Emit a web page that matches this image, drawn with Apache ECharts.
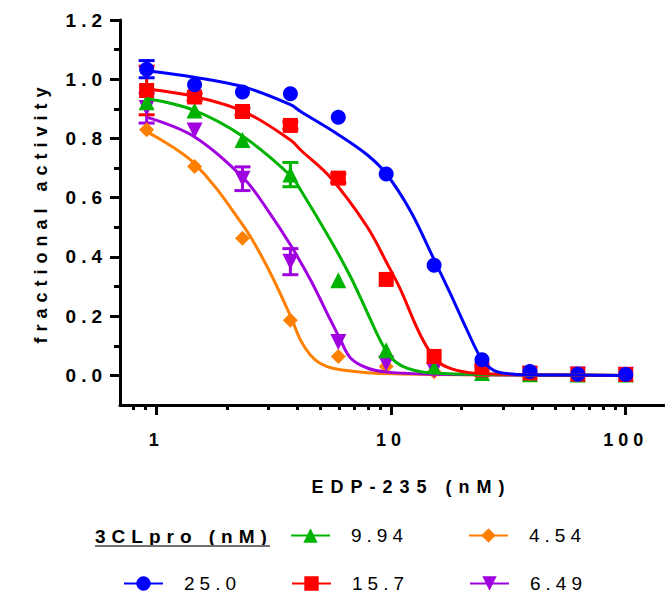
<!DOCTYPE html>
<html><head><meta charset="utf-8">
<script src="https://cdn.jsdelivr.net/npm/echarts@6/dist/echarts.min.js"></script>
<style>
html,body{margin:0;padding:0;background:#fff;}
#chart{width:665px;height:596px;}
#chart text{letter-spacing:5px;}
</style></head><body>
<div id="chart"></div>
<script>
// ---- data ----
const conc = [0.909, 1.455, 2.328, 3.725, 5.96, 9.537, 15.26, 24.41, 39.06, 62.5, 100];

const names = ['25.0', '15.7', '9.94', '6.49', '4.54'];

const blueVals   = [1.034, 0.981, 0.957, 0.951, 0.872, 0.680, 0.372, 0.053, 0.013, 0.004, 0.003];
const redVals    = [0.962, 0.940, 0.891, 0.844, 0.666, 0.324, 0.064, 0.019, 0.008, 0.004, 0.003];
const greenVals  = [0.922, 0.894, 0.795, 0.678, 0.321, 0.085, 0.025, 0.008, 0.004, 0.003, 0.003];
const purpleVals = [0.903, 0.827, 0.664, 0.384, 0.113, 0.040, 0.017, 0.006, 0.004, 0.003, 0.002];
const orangeVals = [0.829, 0.705, 0.463, 0.186, 0.064, 0.030, 0.012, 0.006, 0.004, 0.003, 0.002];

const blueErr   = [0.029, 0, 0, 0, 0, 0, 0, 0, 0, 0, 0];
const redErr    = [0.082, 0.012, 0.012, 0.012, 0.015, 0, 0, 0, 0, 0, 0];
const greenErr  = [0, 0, 0, 0.041, 0, 0, 0, 0, 0, 0, 0];
const purpleErr = [0.051, 0, 0.040, 0.044, 0, 0, 0, 0, 0, 0, 0];
const orangeErr = [0, 0, 0, 0, 0, 0, 0, 0, 0, 0, 0];

// fitted curves
const blueFitX   = [0.909, 1.45, 2.36, 3.73, 4.12, 5.99, 7.91, 9.56, 12.1, 15.3, 17.9, 21.1, 24.4, 27.4, 31.2, 39.2, 62.5, 100];
const blueFitY   = [1.029, 1.007, 0.974, 0.914, 0.891, 0.812, 0.745, 0.680, 0.555, 0.389, 0.276, 0.152, 0.053, 0.017, 0.006, 0.002, 0.001, 0.0];
const redFitX    = [0.909, 1.45, 2.36, 3.73, 4.12, 5.52, 7.91, 9.62, 11.0, 12.9, 14.5, 16.2, 19.1, 24.0, 39.2, 100];
const redFitY    = [0.967, 0.942, 0.891, 0.795, 0.761, 0.668, 0.502, 0.378, 0.288, 0.160, 0.085, 0.040, 0.017, 0.006, 0.002, 0.0];
const greenFitX  = [0.909, 1.45, 2.36, 3.73, 4.12, 5.52, 6.72, 7.9, 9.0, 9.95, 11.0, 12.9, 15.0, 24.0, 100];
const greenFitY  = [0.935, 0.895, 0.805, 0.675, 0.626, 0.457, 0.333, 0.214, 0.118, 0.062, 0.034, 0.015, 0.008, 0.003, 0.0];
const purpleFitX = [0.909, 1.45, 2.36, 3.0, 3.73, 4.54, 5.52, 6.09, 6.72, 7.91, 9.6, 15.0, 100];
const purpleFitY = [0.872, 0.806, 0.665, 0.555, 0.440, 0.322, 0.187, 0.120, 0.059, 0.025, 0.011, 0.004, 0.0];
const orangeFitX = [0.909, 1.45, 2.36, 2.97, 3.73, 4.12, 4.54, 5.0, 5.7, 7.9, 11.0, 20.0, 100];
const orangeFitY = [0.823, 0.716, 0.502, 0.366, 0.200, 0.118, 0.068, 0.040, 0.023, 0.009, 0.005, 0.002, 0.0];

// axis ticks
const xMajorTicks = [1, 10, 100];
const xMinorTicks = [0.8, 0.9, 2, 3, 4, 5, 6, 7, 8, 9, 20, 30, 40, 50, 60, 70, 80, 90];
const yMajorTicks = [0, 0.2, 0.4, 0.6, 0.8, 1.0, 1.2];
const yMinorTicks = [0.1, 0.3, 0.5, 0.7, 0.9, 1.1];

const xTitle = 'EDP-235 (nM)';
const yTitle = 'fractional activity';
const legendTitle = '3CLpro (nM)';

// ---- chart ----
const XMIN = 0.7, XMAX = 147, YMIN = -0.1, YMAX = 1.2;
const FONT = 'Arial, "Liberation Sans", sans-serif';
const lg = v => Math.log10(v);

const colors = {blue:'#0000ff', red:'#ff0000', green:'#00b300', purple:'#a000e0', orange:'#ff8000'};

const groups = [
  {key:'orange', name:names[4], vals:orangeVals, err:orangeErr, fx:orangeFitX, fy:orangeFitY, symbol:'diamond', size:15, rot:0},
  {key:'purple', name:names[3], vals:purpleVals, err:purpleErr, fx:purpleFitX, fy:purpleFitY, symbol:'triangle', size:16, rot:180},
  {key:'green',  name:names[2], vals:greenVals,  err:greenErr,  fx:greenFitX,  fy:greenFitY,  symbol:'triangle', size:16, rot:0},
  {key:'red',    name:names[1], vals:redVals,    err:redErr,    fx:redFitX,    fy:redFitY,    symbol:'rect',     size:15, rot:0},
  {key:'blue',   name:names[0], vals:blueVals,   err:blueErr,   fx:blueFitX,   fy:blueFitY,   symbol:'circle',   size:15, rot:0}
];

const series = [];
groups.forEach(g => {
  const col = colors[g.key];
  series.push({
    type:'line', name:g.name, xAxisIndex:0, yAxisIndex:0,
    data: g.fx.map((x,i)=>[x, g.fy[i]]),
    smooth:0.35,
    showSymbol:false, symbol:g.symbol, symbolSize:g.size, symbolRotate:g.rot,
    lineStyle:{color:col, width:3}, itemStyle:{color:col},
    silent:true
  });
  series.push({
    type:'custom', name:g.name+' error', xAxisIndex:0, yAxisIndex:0,
    data: conc.map((c,i)=>[c, g.vals[i], g.err[i]]).filter(d=>d[2]>0),
    encode:{x:0, y:1},
    renderItem(params, api){
      const x = api.value(0), y = api.value(1), e = api.value(2);
      const t = api.coord([x, y+e]), b = api.coord([x, y-e]);
      const hw = 8, st = {stroke:col, lineWidth:3};
      return {type:'group', children:[
        {type:'line', shape:{x1:t[0], y1:t[1], x2:b[0], y2:b[1]}, style:st},
        {type:'line', shape:{x1:t[0]-hw, y1:t[1], x2:t[0]+hw, y2:t[1]}, style:st},
        {type:'line', shape:{x1:b[0]-hw, y1:b[1], x2:b[0]+hw, y2:b[1]}, style:st}
      ]};
    },
    silent:true
  });
  series.push({
    type:'scatter', name:g.name+' points', xAxisIndex:0, yAxisIndex:0,
    data: conc.map((c,i)=>[c, g.vals[i]]),
    symbol:g.symbol, symbolSize:g.size, symbolRotate:g.rot,
    itemStyle:{color:col, opacity:1}, silent:true
  });
});

const legendBase = {
  orient:'horizontal', padding:0, itemWidth:39, itemHeight:18, selectedMode:false,
  textStyle:{fontSize:19, fontFamily:FONT, color:'#000', padding:[6,0,0,16]}
};
const legends = [
  Object.assign({data:[names[2]], left:290, top:526}, legendBase),
  Object.assign({data:[names[4]], left:468, top:526}, legendBase),
  Object.assign({data:[names[0]], left:123, top:574}, legendBase),
  Object.assign({data:[names[1]], left:291, top:574}, legendBase),
  Object.assign({data:[names[3]], left:469, top:574}, legendBase)
];

const tickStyle = {color:'#000', width:3};
const noLine = {show:false, onZero:false};
const option = {
  animation:false,
  backgroundColor:'#fff',
  grid:{left:120, right:0, top:20, bottom:191, containLabel:false, outerBoundsMode:'none'},
  xAxis:[
    {type:'log', logBase:10, min:XMIN, max:XMAX, position:'bottom',
     axisLine:{show:true, onZero:false, lineStyle:{color:'#000', width:3}},
     axisTick:{show:false}, axisLabel:{show:false}, splitLine:{show:false}, minorTick:{show:false},
     name:xTitle, nameLocation:'middle', nameGap:73,
     nameTextStyle:{fontSize:18, fontWeight:'bold', fontFamily:FONT, color:'#000', padding:[0,0,0,38]}},
    {type:'value', min:lg(XMIN), max:lg(XMAX), position:'bottom',
     axisLine:noLine,
     axisTick:{show:true, customValues:xMajorTicks.map(lg), length:10, lineStyle:tickStyle},
     axisLabel:{show:true, customValues:xMajorTicks.map(lg), margin:26, fontSize:18, fontWeight:'bold', fontFamily:FONT, color:'#000',
       formatter: v => String(xMajorTicks[Math.round(v)])},
     splitLine:{show:false}},
    {type:'value', min:lg(XMIN), max:lg(XMAX), position:'bottom',
     axisLine:noLine,
     axisTick:{show:true, customValues:xMinorTicks.map(lg), length:5, lineStyle:tickStyle},
     axisLabel:{show:false}, splitLine:{show:false}}
  ],
  yAxis:[
    {type:'value', min:YMIN, max:YMAX, position:'left',
     axisLine:{show:true, onZero:false, lineStyle:{color:'#000', width:3}},
     axisTick:{show:true, customValues:yMajorTicks, length:10, lineStyle:tickStyle},
     axisLabel:{show:true, customValues:yMajorTicks, margin:13, fontSize:19, fontWeight:'bold', fontFamily:FONT, color:'#000',
       formatter: v => v.toFixed(1)},
     splitLine:{show:false},
     name:yTitle, nameLocation:'middle', nameGap:70, nameRotate:90,
     nameTextStyle:{fontSize:18, fontWeight:'bold', fontFamily:FONT, color:'#000'}},
    {type:'value', min:YMIN, max:YMAX, position:'left',
     axisLine:noLine,
     axisTick:{show:true, customValues:yMinorTicks, length:6, lineStyle:tickStyle},
     axisLabel:{show:false}, splitLine:{show:false}}
  ],
  legend: legends,
  graphic:[
    {type:'text', left:95, top:527, style:{text:legendTitle, fontSize:19, fontWeight:'bold', fontFamily:FONT, fill:'#000'}},
    {type:'line', shape:{x1:95, y1:546, x2:270, y2:546}, style:{stroke:'#707070', lineWidth:2}}
  ],
  series: series
};

const chart = echarts.init(document.getElementById('chart'), null, {renderer:'svg'});
function spacing(){
  document.querySelectorAll('#chart text').forEach(t => {
    const s = t.textContent;
    if (s === xTitle) t.style.letterSpacing = '7px';
    else if (s === yTitle) t.style.letterSpacing = '6px';
    else if (s === legendTitle) t.style.letterSpacing = '6px';
  });
}
chart.on('finished', spacing);
chart.setOption(option);
spacing();
setTimeout(spacing, 50);
</script>
</body></html>
